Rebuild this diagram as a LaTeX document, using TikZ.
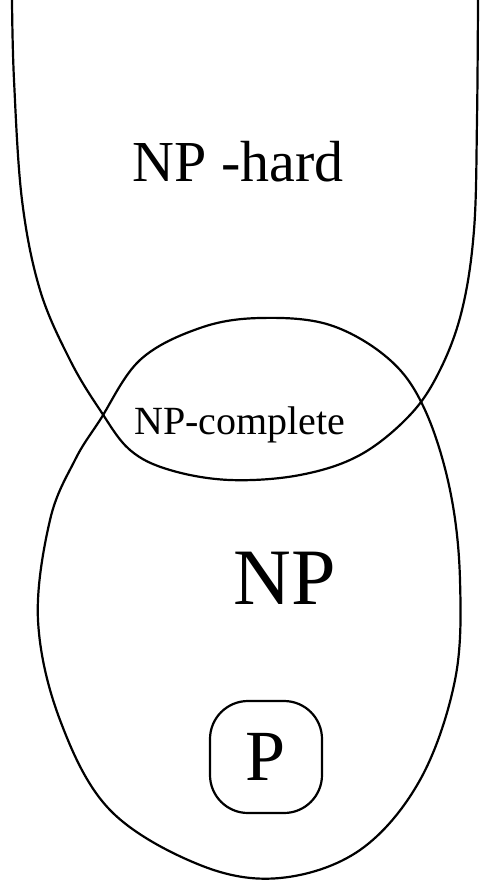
\documentclass[tikz,border=0pt]{standalone}
\usepackage{fontspec}
\setmainfont{Liberation Serif}
\begin{document}
\begin{tikzpicture}[x=1pt,y=-1pt,line width=2.2pt,
  hand/.style={line cap=round,line join=round},
  lbl/.style={inner sep=0pt}]
\useasboundingbox (0,0) rectangle (489,884);
% NP-hard U shape
\draw[hand] plot[smooth,tension=0.6] coordinates {(12,0) (14,80) (22,200) (40,290) (70,360) (100,410) (130,450) (170,470) (230,480) (300,475) (360,455) (410,415) (440,370) (462,310) (474,230) (477,120) (478,0)};
% NP oval
\draw[hand] plot[smooth cycle,tension=0.6] coordinates {(100,420) (140,360) (200,328) (260,318) (330,325) (390,360) (425,410) (450,490) (460,580) (455,680) (420,780) (360,850) (280,878) (200,865) (110,810) (60,720) (38,620) (50,520) (75,460)};
% P
\node[draw,hand,rounded corners=38pt,minimum width=112pt,minimum height=112pt,font=\fontsize{72}{72}\selectfont] (p) at (266,757) {P};
% labels
\node[lbl,font=\fontsize{58}{58}\selectfont] (nphard) at (238,162) {NP -hard};
\node[lbl,font=\fontsize{40}{40}\selectfont] (npc) at (240,425) {NP-complete};
\node[lbl,font=\fontsize{80}{80}\selectfont] (np) at (285,578) {NP};
\end{tikzpicture}
\end{document}
